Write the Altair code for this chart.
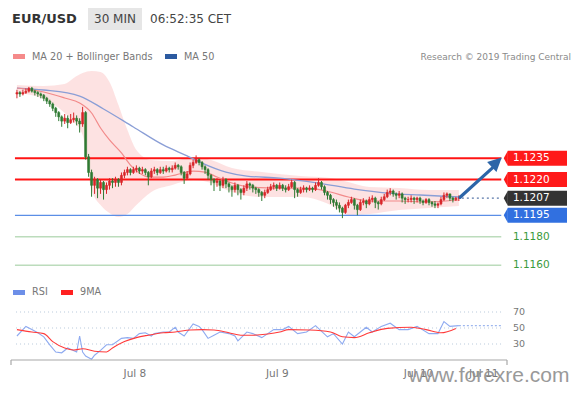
import altair as alt
import pandas as pd

# ---------------- data ----------------
first_open = 1.1280
close = [1.1281,1.1280,1.1281,1.1282,1.1284,1.1282,1.1281,1.1280,1.1279,1.1277,
         1.1275,1.1273,1.1270,1.1267,1.1264,1.1261,1.1263,1.1260,1.1262,1.1263,
         1.1261,1.1259,1.1267,1.1236,1.1225,1.1216,1.1220,1.1214,1.1218,1.1213,
         1.1216,1.1219,1.1218,1.1220,1.1218,1.1223,1.1225,1.1227,1.1225,1.1227,
         1.1228,1.1226,1.1227,1.1225,1.1222,1.1226,1.1227,1.1225,1.1227,1.1226,
         1.1228,1.1227,1.1228,1.1230,1.1229,1.1225,1.1221,1.1224,1.1230,1.1232,
         1.1234,1.1232,1.1229,1.1227,1.1223,1.1220,1.1218,1.1219,1.1216,1.1220,
         1.1217,1.1215,1.1213,1.1216,1.1213,1.1211,1.1214,1.1217,1.1216,1.1214,
         1.1213,1.1211,1.1209,1.1211,1.1213,1.1215,1.1216,1.1214,1.1216,1.1214,
         1.1213,1.1215,1.1218,1.1213,1.1211,1.1213,1.1214,1.1213,1.1214,1.1213,
         1.1216,1.1218,1.1215,1.1211,1.1209,1.1206,1.1204,1.1202,1.1200,1.1197,
         1.1202,1.1204,1.1206,1.1202,1.1199,1.1204,1.1205,1.1203,1.1206,1.1207,
         1.1204,1.1203,1.1206,1.1208,1.1211,1.1212,1.1210,1.1209,1.1210,1.1207,
         1.1206,1.1206,1.1207,1.1206,1.1207,1.1205,1.1204,1.1206,1.1204,1.1203,
         1.1202,1.1203,1.1206,1.1209,1.1210,1.1207,1.1206,1.1207,1.1207]
high = [1.1283,1.1282,1.1283,1.1284,1.1285,1.1285,1.1283,1.1282,1.1281,1.1280,
        1.1278,1.1276,1.1274,1.1271,1.1268,1.1265,1.1266,1.1265,1.1266,1.1267,
        1.1265,1.1263,1.1271,1.1268,1.1238,1.1227,1.1222,1.1221,1.1220,1.1219,
        1.1218,1.1221,1.1221,1.1222,1.1221,1.1225,1.1227,1.1229,1.1228,1.1229,
        1.1230,1.1229,1.1229,1.1228,1.1226,1.1228,1.1229,1.1228,1.1229,1.1229,
        1.1230,1.1229,1.1230,1.1232,1.1231,1.1230,1.1226,1.1226,1.1232,1.1234,
        1.1237,1.1235,1.1233,1.1230,1.1228,1.1224,1.1221,1.1221,1.1220,1.1222,
        1.1221,1.1218,1.1216,1.1218,1.1217,1.1214,1.1216,1.1219,1.1218,1.1217,
        1.1215,1.1214,1.1212,1.1213,1.1215,1.1217,1.1218,1.1217,1.1218,1.1217,
        1.1216,1.1217,1.1220,1.1219,1.1214,1.1215,1.1216,1.1215,1.1216,1.1215,
        1.1218,1.1221,1.1219,1.1216,1.1212,1.1210,1.1207,1.1206,1.1204,1.1201,
        1.1203,1.1206,1.1208,1.1207,1.1203,1.1206,1.1207,1.1206,1.1208,1.1209,
        1.1208,1.1205,1.1208,1.1210,1.1213,1.1214,1.1213,1.1211,1.1212,1.1211,
        1.1208,1.1208,1.1209,1.1208,1.1208,1.1208,1.1206,1.1207,1.1207,1.1205,
        1.1205,1.1204,1.1208,1.1211,1.1211,1.1210,1.1208,1.1208,1.1209]
low = [1.1277,1.1278,1.1279,1.1280,1.1281,1.1281,1.1279,1.1278,1.1277,1.1275,
       1.1273,1.1271,1.1268,1.1264,1.1261,1.1257,1.1259,1.1256,1.1259,1.1260,
       1.1258,1.1253,1.1257,1.1234,1.1222,1.1208,1.1210,1.1207,1.1210,1.1206,
       1.1210,1.1213,1.1214,1.1215,1.1215,1.1216,1.1221,1.1223,1.1223,1.1224,
       1.1225,1.1224,1.1224,1.1223,1.1216,1.1221,1.1224,1.1223,1.1224,1.1224,
       1.1225,1.1225,1.1225,1.1227,1.1227,1.1223,1.1217,1.1220,1.1223,1.1228,
       1.1231,1.1230,1.1227,1.1224,1.1220,1.1216,1.1212,1.1215,1.1212,1.1214,
       1.1214,1.1211,1.1208,1.1211,1.1209,1.1206,1.1209,1.1212,1.1213,1.1211,
       1.1210,1.1208,1.1205,1.1207,1.1210,1.1212,1.1213,1.1212,1.1213,1.1212,
       1.1211,1.1212,1.1214,1.1207,1.1208,1.1210,1.1211,1.1211,1.1212,1.1211,
       1.1212,1.1215,1.1213,1.1209,1.1206,1.1203,1.1201,1.1199,1.1197,1.1193,
       1.1196,1.1200,1.1203,1.1199,1.1195,1.1198,1.1202,1.1200,1.1202,1.1204,
       1.1200,1.1199,1.1202,1.1205,1.1207,1.1209,1.1208,1.1206,1.1207,1.1204,
       1.1203,1.1204,1.1204,1.1203,1.1204,1.1203,1.1202,1.1203,1.1202,1.1201,
       1.1200,1.1200,1.1202,1.1205,1.1207,1.1205,1.1204,1.1205,1.1205]

band_idx = [0, 9, 16, 19, 22, 25, 28, 31, 34, 37, 40, 45, 52, 59, 65, 72, 82, 95, 105, 111, 118, 128, 138, 148]
band_upper = [1.12863, 1.12856, 1.12870, 1.12912, 1.12947, 1.12961, 1.12954, 1.12884, 1.12723, 1.12548,
              1.12408, 1.12338, 1.12331, 1.12359, 1.12338, 1.12281, 1.12253, 1.12225, 1.12211, 1.12183,
              1.12148, 1.12141, 1.12127, 1.12127]
band_lower = [1.12807, 1.12765, 1.12667, 1.12604, 1.12513, 1.12127, 1.12022, 1.11966, 1.11938, 1.11959,
              1.12022, 1.12113, 1.12162, 1.12197, 1.12176, 1.12113, 1.12078, 1.12078, 1.12022, 1.11952,
              1.11959, 1.11987, 1.12001, 1.12015]

ma20_idx = [0, 9, 16, 21, 25, 28, 31, 35, 38, 41, 44, 49, 53, 59, 63, 67, 72, 78, 88, 97, 105, 111, 118, 128, 137, 148]
ma20 = [1.12842, 1.12814, 1.12772, 1.12737, 1.12667, 1.12562, 1.12478, 1.12387, 1.12302, 1.12246,
        1.12218, 1.12218, 1.12232, 1.12260, 1.12253, 1.12218, 1.12176, 1.12148, 1.12141, 1.12141,
        1.12113, 1.12078, 1.12050, 1.12050, 1.12043, 1.12057]

ma50_idx = [0, 9, 21, 29, 39, 49, 57, 62, 70, 77, 88, 101, 113, 124, 135, 148]
ma50 = [1.12842, 1.12828, 1.12786, 1.12695, 1.12569, 1.12443, 1.12366, 1.12316, 1.12253, 1.12225,
        1.12211, 1.12176, 1.12134, 1.12106, 1.12092, 1.12078]

red_levels = [1.1235, 1.1220]
support_level = 1.1195
green_levels = [1.1180, 1.1160]
last_price = 1.1207

tag_levels = [1.1235, 1.1220, 1.1207, 1.1195]
tag_labels = ["1.1235", "1.1220", "1.1207", "1.1195"]
green_labels = ["1.1180", "1.1160"]

rsi_idx = [0,3,5,7,9,11,13,15,17,20,21,22,23,25,26,28,30,32,35,37,39,41,43,45,46,49,51,53,54,56,
           59,61,62,64,66,68,71,73,74,77,79,82,84,86,89,91,94,97,100,104,106,109,111,113,115,117,
           119,122,125,128,131,134,138,141,143,145,148]
rsi = [40,52,48,44,39,29,20,19,25,20,40,20,15,11,16,22,29,29,37,38,37,43,44,40,43,45,45,51,45,40,
       55,52,48,37,41,45,43,40,34,45,43,38,43,48,48,52,43,45,53,39,43,30,45,39,45,51,45,52,56,48,
       48,52,43,43,58,52,53]
rsima_idx = [0,5,9,12,16,19,22,26,30,32,36,40,44,49,53,58,62,66,71,75,79,84,88,91,98,105,109,113,118,124,132,137,142,147]
rsima = [48,45,43,33,25,22.5,24,21,20,25,33,38,41,44,45,47.5,48,47.5,44,41,41,42.5,45,48,47.5,45,39,38,44,49.5,51,48,44,49.5]
rsi_levels = [70, 50, 30]

date_labels = ["Jul 8", "Jul 9", "Jul 10", "Jul 11"]
date_idx = [39.5, 87.2, 134.5, 156.3]

# ---------------- layout constants ----------------
W, H = 564, 377
XDOM = [-1.316, 184.21]
PDOM = [1.107604, 1.134029]
RDOM = [-21.25, 450]
LINE_X0, LINE_X1 = -0.66, 162.2
TAG_X0, TAG_TXT = 164.4, 166.1

xs = alt.Scale(domain=XDOM, nice=False, zero=False)
ps = alt.Scale(domain=PDOM, nice=False, zero=False)
rs = alt.Scale(domain=RDOM, nice=False, zero=False)


def X(f):
    return alt.X(f, type="quantitative", scale=xs, axis=None)


def YP(f):
    return alt.Y(f, type="quantitative", scale=ps, axis=None)


def YR(f):
    return alt.Y(f, type="quantitative", scale=rs, axis=None)


FONT = "DejaVu Sans"


def label(text, px, py, size=10, color="#777777", align="left", weight="normal", font=FONT, baseline="middle", opacity=1.0):
    return alt.Chart(pd.DataFrame({"t": [text]})).mark_text(
        align=align, baseline=baseline, fontSize=size, color=color, fontWeight=weight, font=font, opacity=opacity
    ).encode(x=alt.value(px - 8), y=alt.value(py - 8), text="t:N")


def box(px0, px1, py0, py1, color):
    return alt.Chart(pd.DataFrame({"a": [0]})).mark_rect(color=color).encode(
        x=alt.value(px0 - 8), x2=alt.value(px1 - 8), y=alt.value(py0 - 8), y2=alt.value(py1 - 8))


# ---------------- frames ----------------
n = len(close)
opens = [first_open] + close[:-1]
cdf = pd.DataFrame({"idx": list(range(n)), "open": opens, "close": close, "high": high, "low": low})
cdf["col"] = ["#d8262a" if c >= o else "#2f7a33" for o, c in zip(opens, close)]

band = pd.DataFrame({"idx": band_idx, "upper": band_upper, "lower": band_lower})
m20 = pd.DataFrame({"idx": ma20_idx, "v": ma20})
m50 = pd.DataFrame({"idx": ma50_idx, "v": ma50})

lv = pd.DataFrame({
    "lvl": red_levels + [support_level] + green_levels,
    "col": ["#ff1414", "#ff1414", "#5b8ee6", "#bcdcbc", "#bcdcbc"],
    "w": [2, 2, 1.3, 1.5, 1.5],
})
lv["x0"] = LINE_X0
lv["x1"] = LINE_X1

tags = pd.DataFrame({"lvl": tag_levels, "t": tag_labels,
                     "col": ["#ff1a1a", "#ff1a1a", "#333333", "#3170e0"]})
tags["x0"] = TAG_X0
tags["x1"] = XDOM[1]
tags["xt"] = TAG_TXT
greens = pd.DataFrame({"lvl": green_levels, "t": green_labels})
greens["xt"] = TAG_TXT

rsidf = pd.DataFrame({"idx": rsi_idx, "v": rsi})
rsimadf = pd.DataFrame({"idx": rsima_idx, "v": rsima})
rlev = pd.DataFrame({"lvl": rsi_levels, "t": [str(v) for v in rsi_levels]})
rlev["x0"] = -0.3
rlev["x1"] = 162.8
rlev["xt"] = TAG_TXT

dates = pd.DataFrame({"idx": date_idx, "t": date_labels})

# ---------------- layers ----------------
layers = []

# header
layers.append(label("EUR/USD", 12, 19, size=13, color="#333333", weight="bold"))
layers.append(box(88, 142, 8, 30, "#e6e6e6"))
layers.append(label("30 MIN", 94, 19, size=12, color="#444444"))
layers.append(label("06:52:35 CET", 150, 19, size=12, color="#444444"))

# legend row
layers.append(box(13, 25, 54, 59, "#f58a8a"))
layers.append(label("MA 20 + Bollinger Bands", 32, 57, size=9.7, color="#777777"))
layers.append(box(165, 177, 54, 59, "#2c5aa0"))
layers.append(label("MA 50", 184, 57, size=9.7, color="#777777"))
layers.append(label("Research \u00a9 2019 Trading Central", 571, 57, size=9, color="#8a8a8a", align="right"))

# bollinger band
layers.append(alt.Chart(band).mark_area(color="#fcd3d3", opacity=0.65, interpolate="monotone").encode(
    x=X("idx"), y=YP("upper"), y2="lower"))

# horizontal levels
layers.append(alt.Chart(lv).mark_rule().encode(
    x=X("x0"), x2="x1", y=YP("lvl"),
    color=alt.Color("col:N", scale=None), strokeWidth=alt.StrokeWidth("w:Q", scale=None)))

# moving averages
layers.append(alt.Chart(m50).mark_line(color="#8a9ed6", strokeWidth=1.3, interpolate="monotone").encode(
    x=X("idx"), y=YP("v")))
layers.append(alt.Chart(m20).mark_line(color="#f28a8a", strokeWidth=1.2, interpolate="monotone").encode(
    x=X("idx"), y=YP("v")))

# candles
layers.append(alt.Chart(cdf).mark_rule(strokeWidth=1).encode(
    x=X("idx"), y=YP("low"), y2="high", color=alt.Color("col:N", scale=None)))
layers.append(alt.Chart(cdf).mark_bar(size=2, strokeWidth=0.6).encode(
    x=X("idx"), y=YP("open"), y2="close",
    color=alt.Color("col:N", scale=None), stroke=alt.Stroke("col:N", scale=None)))

# last price dotted line
lp = pd.DataFrame({"x0": [n], "x1": [LINE_X1], "lvl": [last_price]})
layers.append(alt.Chart(lp).mark_rule(color="#5a78aa", strokeWidth=1.3, strokeDash=[2, 3]).encode(
    x=X("x0"), x2="x1", y=YP("lvl")))

# arrow
arr = pd.DataFrame({"x0": [n - 0.6], "x1": [159.9], "y0": [1.12076], "y1": [1.12295]})
layers.append(alt.Chart(arr).mark_rule(color="#2c65a8", strokeWidth=3.2, strokeCap="round").encode(
    x=X("x0"), x2="x1", y=YP("y0"), y2="y1"))
head = pd.DataFrame({"x": [160.5], "y": [1.12318]})
layers.append(alt.Chart(head).mark_point(
    shape="M0,-1L0.9,0.8L-0.9,0.8Z", filled=True, size=230, angle=47, color="#2c65a8", opacity=1).encode(
    x=X("x"), y=YP("y")))

# tags
layers.append(alt.Chart(tags).mark_rect(yOffset=-7.5, y2Offset=7.5).encode(
    x=X("x0"), x2="x1", y=YP("lvl"), y2="lvl", color=alt.Color("col:N", scale=None)))
layers.append(alt.Chart(tags).mark_point(shape="M0,-1L-0.55,0L0,1Z", filled=True, size=225, opacity=1).encode(
    x=X("x0"), y=YP("lvl"), color=alt.Color("col:N", scale=None)))
layers.append(alt.Chart(tags).mark_text(align="left", baseline="middle", fontSize=10.5, color="white", font=FONT).encode(
    x=X("xt"), y=YP("lvl"), text="t:N"))
layers.append(alt.Chart(greens).mark_text(align="left", baseline="middle", fontSize=10.5, color="#3a9a3a", font=FONT).encode(
    x=X("xt"), y=YP("lvl"), text="t:N"))

# RSI legend
layers.append(box(13, 25, 290, 295, "#6d8fe8"))
layers.append(label("RSI", 32, 292, size=9.7, color="#777777"))
layers.append(box(61, 73, 290, 295, "#ff2020"))
layers.append(label("9MA", 80, 292, size=9.7, color="#777777"))

# RSI grid + labels
layers.append(alt.Chart(rlev).mark_rule(color="#b9cadb", strokeWidth=1, strokeDash=[1, 3]).encode(
    x=X("x0"), x2="x1", y=YR("lvl")))
layers.append(alt.Chart(rlev).mark_text(align="left", baseline="middle", fontSize=9.5, color="#777777", font=FONT).encode(
    x=X("xt"), y=YR("lvl"), text="t:N"))

# RSI lines
tail = pd.DataFrame({"x0": [rsi_idx[-1]], "x1": [LINE_X1], "v": [rsi[-1]]})
layers.append(alt.Chart(tail).mark_rule(color="#9db6ee", strokeWidth=1.2, strokeDash=[2, 2]).encode(
    x=X("x0"), x2="x1", y=YR("v")))
layers.append(alt.Chart(rsidf).mark_line(color="#8eaaf0", strokeWidth=1.1).encode(x=X("idx"), y=YR("v")))
layers.append(alt.Chart(rsimadf).mark_line(color="#ff3a3a", strokeWidth=1.1, interpolate="monotone").encode(
    x=X("idx"), y=YR("v")))

# bottom axis
axl = pd.DataFrame({"a": [0]})
layers.append(alt.Chart(axl).mark_rule(color="#a8a8a8", strokeWidth=1.2).encode(
    x=alt.value(11 - 8), x2=alt.value(507 - 8), y=alt.value(360 - 8)))
layers.append(alt.Chart(axl).mark_rule(color="#a8a8a8", strokeWidth=1.2).encode(
    x=alt.value(11 - 8), y=alt.value(360 - 8), y2=alt.value(365 - 8)))
layers.append(alt.Chart(axl).mark_rule(color="#a8a8a8", strokeWidth=1.2).encode(
    x=alt.value(507 - 8), y=alt.value(360 - 8), y2=alt.value(365 - 8)))
layers.append(alt.Chart(dates).mark_text(align="center", baseline="middle", fontSize=10.5, color="#777777", font=FONT).encode(
    x=X("idx"), y=alt.value(374 - 8), text="t:N"))

# watermark
layers.append(label("www.forexre.com", 489, 382, size=21, color="#8f8f8f", align="center",
                    font="Liberation Sans", baseline="alphabetic", opacity=0.9))

chart = alt.layer(*layers).resolve_scale(y="independent").properties(
    width=W, height=H, autosize=alt.AutoSizeParams(type="none"), padding=0,
    background="#ffffff"
).configure_view(strokeWidth=0)

chart.save("out.html", embed_options={"renderer": "svg", "actions": False})
